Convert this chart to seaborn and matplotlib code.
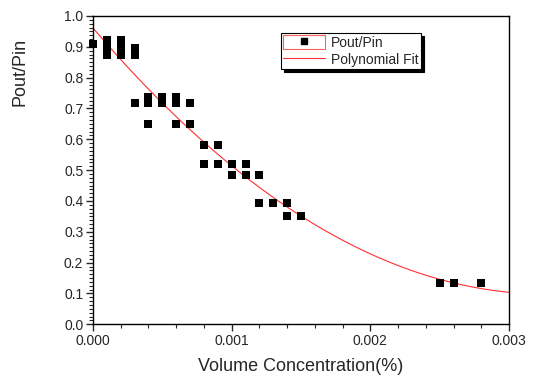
import numpy as np
import pandas as pd
import matplotlib
matplotlib.use("Agg")
import matplotlib.pyplot as plt
from matplotlib.lines import Line2D
from matplotlib.patches import Rectangle
from matplotlib.ticker import MultipleLocator, AutoMinorLocator, FormatStrFormatter
import seaborn as sns

# Measured points (volume concentration in %, Pout/Pin)
conc = [
    0.0000,
    0.0001, 0.0001, 0.0001,
    0.0002, 0.0002, 0.0002,
    0.0003, 0.0003, 0.0003,
    0.0004, 0.0004, 0.0004,
    0.0005, 0.0005,
    0.0006, 0.0006, 0.0006,
    0.0007, 0.0007,
    0.0008, 0.0008,
    0.0009, 0.0009,
    0.0010, 0.0010,
    0.0011, 0.0011,
    0.0012, 0.0012,
    0.0013,
    0.0014, 0.0014,
    0.0015,
    0.0025, 0.0026, 0.0028,
]
ratio = [
    0.910,
    0.922, 0.897, 0.873,
    0.922, 0.899, 0.873,
    0.896, 0.875, 0.718,
    0.736, 0.717, 0.649,
    0.736, 0.717,
    0.736, 0.717, 0.649,
    0.718, 0.650,
    0.581, 0.520,
    0.581, 0.520,
    0.520, 0.483,
    0.520, 0.483,
    0.483, 0.392,
    0.392,
    0.392, 0.351,
    0.351,
    0.133, 0.133, 0.133,
]

df = pd.DataFrame({"conc": conc, "ratio": ratio})

# second order polynomial fit of the points
coef = np.polyfit(df["conc"], df["ratio"], 2)
fit_x = np.linspace(0, 0.003, 200)
fit_df = pd.DataFrame({"conc": fit_x, "ratio": np.polyval(coef, fit_x)})

sns.set_style("ticks")
plt.rcParams["font.family"] = ["Liberation Sans", "DejaVu Sans"]

fig = plt.figure(figsize=(5.36, 3.79), dpi=100)
ax = fig.add_axes([0.1735, 0.1443, 0.7761, 0.8135])

sns.lineplot(data=fit_df, x="conc", y="ratio", color="#ff3030", lw=0.8, ax=ax)
sns.scatterplot(data=df, x="conc", y="ratio", marker="s", s=26, color="black",
                edgecolor="black", linewidth=0, ax=ax, clip_on=False, zorder=3)

ax.set_xlim(0, 0.003)
ax.set_ylim(0, 1.0)
ax.xaxis.set_major_locator(MultipleLocator(0.001))
ax.xaxis.set_minor_locator(AutoMinorLocator(5))
ax.yaxis.set_major_locator(MultipleLocator(0.1))
ax.yaxis.set_minor_locator(AutoMinorLocator(8))
ax.xaxis.set_major_formatter(FormatStrFormatter("%.3f"))
ax.yaxis.set_major_formatter(FormatStrFormatter("%.1f"))

ax.tick_params(which="major", direction="out", length=5, width=1, labelsize=10, pad=2)
ax.tick_params(which="minor", direction="out", length=3, width=0.8)
for sp in ax.spines.values():
    sp.set_linewidth(1)
    sp.set_color("black")

ax.set_xlabel("Volume Concentration(%)", fontsize=13, labelpad=7)
ax.set_ylabel("Pout/Pin", fontsize=13)
ax.yaxis.set_label_coords(-0.155, 0.82)

h_pts = (Rectangle((0, 0), 1, 1, facecolor="white", edgecolor="#ff6060", lw=0.8),
         Line2D([], [], marker="s", color="black", ls="none", markersize=4.5))
h_fit = Line2D([], [], color="#ff3030", lw=0.8)
leg = ax.legend([h_pts, h_fit], ["Pout/Pin", "Polynomial Fit"],
                loc="upper left", bbox_to_anchor=(0.452, 0.944),
                fontsize=10, frameon=True, fancybox=False,
                shadow={"facecolor": "black", "edgecolor": "black", "alpha": 1},
                borderpad=0.15, labelspacing=0.2, handlelength=3.0,
                handleheight=1.1, handletextpad=0.45, borderaxespad=0)
leg.get_frame().set_edgecolor("black")
leg.get_frame().set_linewidth(0.8)
leg.get_frame().set_alpha(1)

fig.savefig("out.png", dpi=100)
